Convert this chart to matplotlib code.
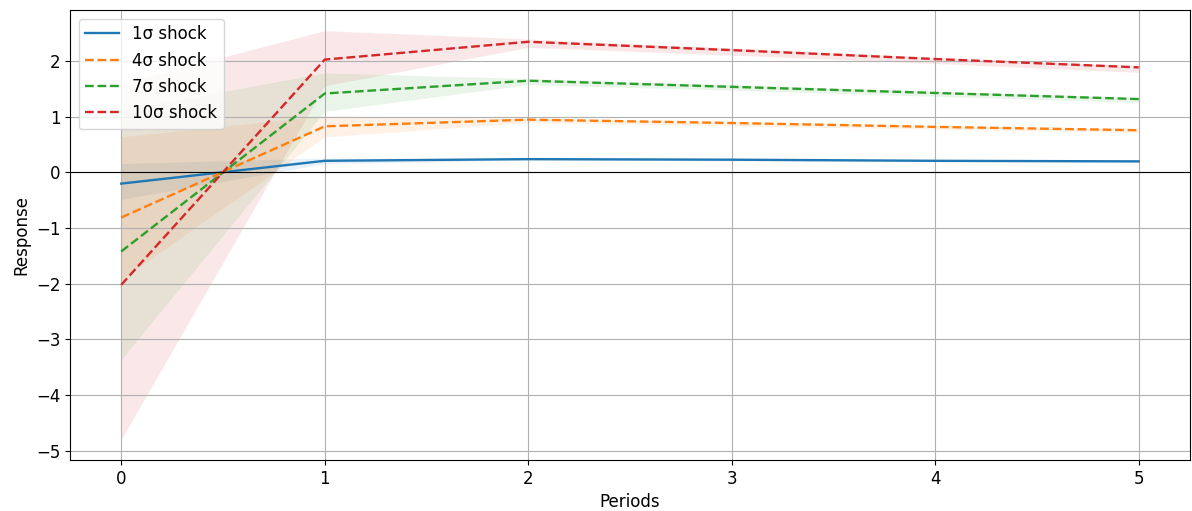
import matplotlib
matplotlib.use("Agg")
import matplotlib.pyplot as plt

periods = [0, 1, 2, 3, 4, 5]
labels = ["1σ shock", "4σ shock", "7σ shock", "10σ shock"]

mean_1 = [-0.20, 0.21, 0.24, 0.23, 0.21, 0.20]
lower_1 = [-0.48, 0.16, 0.22, 0.21, 0.19, 0.18]
upper_1 = [0.16, 0.26, 0.25, 0.24, 0.22, 0.21]

mean_4 = [-0.81, 0.83, 0.95, 0.89, 0.82, 0.76]
lower_4 = [-1.92, 0.64, 0.90, 0.84, 0.78, 0.72]
upper_4 = [0.64, 1.02, 0.97, 0.91, 0.84, 0.78]

mean_7 = [-1.42, 1.42, 1.65, 1.54, 1.43, 1.32]
lower_7 = [-3.36, 1.10, 1.58, 1.48, 1.37, 1.26]
upper_7 = [1.12, 1.79, 1.69, 1.58, 1.46, 1.35]

mean_10 = [-2.02, 2.03, 2.35, 2.20, 2.04, 1.89]
lower_10 = [-4.80, 1.56, 2.25, 2.11, 1.96, 1.80]
upper_10 = [1.60, 2.55, 2.40, 2.24, 2.07, 1.92]

means = [mean_1, mean_4, mean_7, mean_10]
lowers = [lower_1, lower_4, lower_7, lower_10]
uppers = [upper_1, upper_4, upper_7, upper_10]
styles = ["-", "--", "--", "--"]
colors = ["C0", "C1", "C2", "C3"]

plt.rcParams["font.size"] = 12

fig, ax = plt.subplots(figsize=(11.92, 5.11), dpi=100)
for m, lo, up, ls, c, lab in zip(means, lowers, uppers, styles, colors, labels):
    ax.plot(periods, m, ls, color=c, label=lab, linewidth=1.7)
    ax.fill_between(periods, lo, up, color=c, alpha=0.1, linewidth=0)

ax.axhline(0, color="black", linewidth=0.8)
ax.set_xlabel("Periods")
ax.set_ylabel("Response")
ax.grid(True)
ax.legend(loc="upper left")
fig.subplots_adjust(left=0.059, right=0.998, top=0.98, bottom=0.1)
fig.savefig("out.png")
